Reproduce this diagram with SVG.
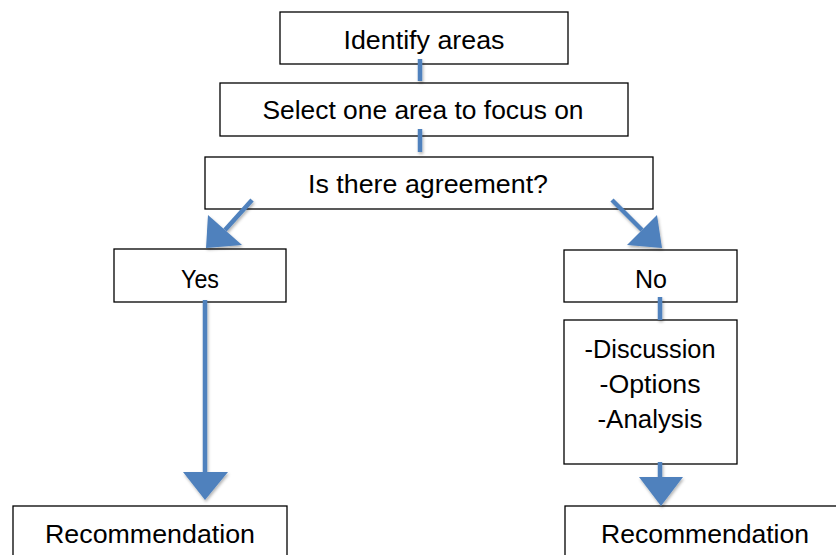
<svg xmlns="http://www.w3.org/2000/svg" width="836" height="555" viewBox="0 0 836 555">
<defs>
<style>
.box{fill:#fff;stroke:#000;stroke-width:1.3}
.t{font-family:"Liberation Sans",Arial,sans-serif;font-size:25px;fill:#000;text-anchor:middle}
.ln{stroke:#4F81BD;stroke-width:4.5;fill:none}
.hd{fill:#4F81BD}
</style>
<filter id="sh" x="-20%" y="-20%" width="140%" height="140%">
<feDropShadow dx="1" dy="2" stdDeviation="1.5" flood-color="#000" flood-opacity="0.3"/>
</filter>
</defs>
<rect width="836" height="555" fill="#fff"/>
<g id="identify">
<rect class="box" x="280" y="12" width="288" height="52"/>
<text class="t" x="424" y="49" textLength="161" lengthAdjust="spacingAndGlyphs">Identify areas</text>
</g>
<g id="select">
<rect class="box" x="220" y="83" width="408" height="53"/>
<text class="t" x="423" y="119" textLength="321" lengthAdjust="spacingAndGlyphs">Select one area to focus on</text>
</g>
<g id="agreement">
<rect class="box" x="205" y="157" width="448" height="52"/>
<text class="t" x="428" y="193" textLength="240" lengthAdjust="spacingAndGlyphs">Is there agreement?</text>
</g>
<g id="yes">
<rect class="box" x="114" y="249" width="172" height="53"/>
<text class="t" x="200" y="288" textLength="38" lengthAdjust="spacingAndGlyphs">Yes</text>
</g>
<g id="no">
<rect class="box" x="564" y="250" width="173" height="52"/>
<text class="t" x="651" y="288" textLength="32" lengthAdjust="spacingAndGlyphs">No</text>
</g>
<g id="discussion">
<rect class="box" x="564" y="320" width="173" height="144"/>
<text class="t" x="650" y="358" textLength="131" lengthAdjust="spacingAndGlyphs">-Discussion</text>
<text class="t" x="650" y="393" textLength="101" lengthAdjust="spacingAndGlyphs">-Options</text>
<text class="t" x="650" y="428" textLength="105" lengthAdjust="spacingAndGlyphs">-Analysis</text>
</g>
<g id="rec-left">
<rect class="box" x="13" y="506" width="274" height="60"/>
<text class="t" x="150" y="543" textLength="210" lengthAdjust="spacingAndGlyphs">Recommendation</text>
</g>
<g id="rec-right">
<rect class="box" x="565" y="506" width="290" height="60"/>
<text class="t" x="705" y="543" textLength="208" lengthAdjust="spacingAndGlyphs">Recommendation</text>
</g>
<g id="connectors" filter="url(#sh)">
<line class="ln" x1="420" y1="59" x2="420" y2="81"/>
<line class="ln" x1="420" y1="129" x2="420" y2="152"/>
<line class="ln" x1="252" y1="200" x2="225" y2="230"/>
<polygon class="hd" points="208,215 242,245 206,248"/>
<line class="ln" x1="612" y1="200" x2="642" y2="230"/>
<polygon class="hd" points="657,215 627,245 662,248"/>
<line class="ln" x1="205" y1="300" x2="205" y2="472"/>
<polygon class="hd" points="183,472 228,472 205,500"/>
<line class="ln" x1="660" y1="297" x2="660" y2="320"/>
<line class="ln" x1="660" y1="462" x2="660" y2="477"/>
<polygon class="hd" points="639,477 683,477 661,506"/>
</g>
</svg>
